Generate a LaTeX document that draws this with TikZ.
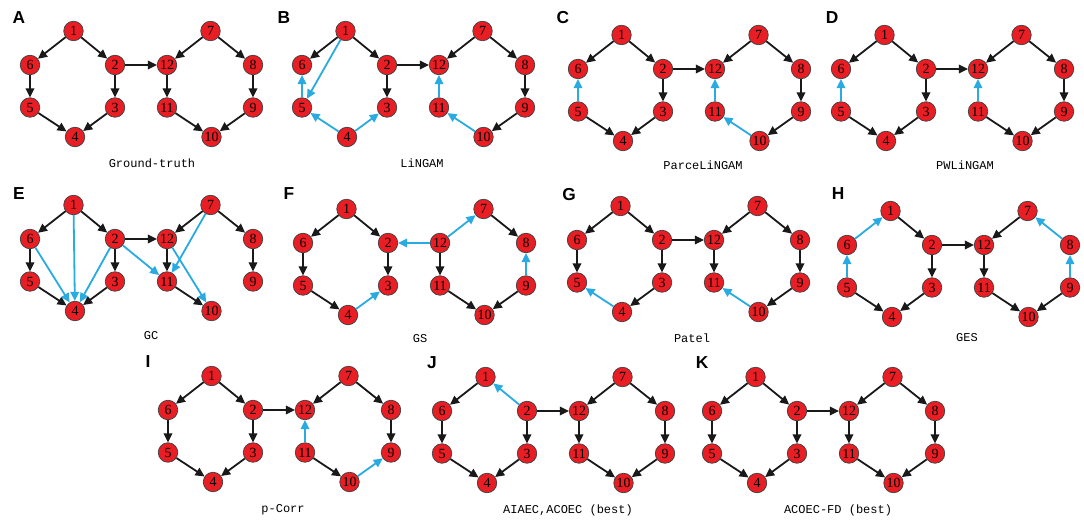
\documentclass[tikz,border=0pt]{standalone}
\usepackage{fontspec}
\setmainfont{Liberation Serif}
\newfontfamily\monof{Liberation Mono}
\newfontfamily\letf{Liberation Sans}
\usetikzlibrary{arrows.meta}
\definecolor{nodered}{RGB}{232,30,36}
\definecolor{edgeblue}{RGB}{41,171,226}
\tikzset{
  vnode/.style={circle, draw=black!75, line width=0.55pt, fill=nodered, minimum size=14.6pt, inner sep=0pt, font=\fontsize{10.5}{11}\selectfont},
  bk/.style={draw=black!90, line width=1.35pt, -{Triangle[length=6.8pt,width=6.4pt]}},
  bl/.style={draw=edgeblue, fill=edgeblue, line width=1.35pt, -{Triangle[length=6.8pt,width=6.4pt]}},
  plet/.style={font=\letf\bfseries\fontsize{13}{13}\selectfont, inner sep=0pt},
  plab/.style={font=\monof\fontsize{9}{9}\selectfont, inner sep=0pt},
}
\newcommand\mkpanel[3]{%
  \foreach \n/\dx/\dy in {1/43.5/-34, 2/85/0, 3/85/42.5, 4/45/72, 5/0/42.5, 6/0/0, 7/180.5/-34, 8/223/0, 9/223/42.5, 10/181.5/72, 11/137/42.5, 12/137/0}
    {\node[vnode] (#1\n) at ({#2+\dx},{#3+(\dy)}) {\n};}%
}
\newcommand\mkedges[3]{%
  \foreach \a/\b in {#3} {\draw[#2] (#1\a) -- (#1\b);}%
}
\begin{document}
\begin{tikzpicture}[x=0.75pt,y=-0.75pt]
\path[use as bounding box, fill=white] (0,0) rectangle (1084,520);

% ---------- Row 1 ----------
\mkpanel{A}{30}{65}
\mkpanel{B}{302}{65}
\mkpanel{C}{578}{69}
\mkpanel{D}{841}{69}
% ---------- Row 2 ----------
\mkpanel{E}{30}{239}
\mkpanel{F}{303}{243}
\mkpanel{G}{577}{240}
\mkpanel{H}{847}{245}
% ---------- Row 3 ----------
\mkpanel{I}{168}{410}
\mkpanel{J}{442}{411}
\mkpanel{K}{712}{411}

% panel letters
\node[plet] (LA) at (19,18) {A};
\node[plet] (LB) at (284,18) {B};
\node[plet] (LC) at (563,18) {C};
\node[plet] (LD) at (832,18) {D};
\node[plet] (LE) at (19,194) {E};
\node[plet] (LF) at (289,194) {F};
\node[plet] (LG) at (569,195) {G};
\node[plet] (LH) at (838,194) {H};
\node[plet] (LI) at (148,362) {I};
\node[plet] (LJ) at (432,363) {J};
\node[plet] (LK) at (702,363) {K};

% method labels
\node[plab] (TA) at (152,163) {Ground-truth};
\node[plab] (TB) at (422,163) {LiNGAM};
\node[plab] (TC) at (703,165) {ParceLiNGAM};
\node[plab] (TD) at (965,165) {PWLiNGAM};
\node[plab] (TE) at (151,336) {GC};
\node[plab] (TF) at (420,339) {GS};
\node[plab] (TG) at (692,338) {Patel};
\node[plab] (TH) at (967,338) {GES};
\node[plab] (TI) at (283,510) {p-Corr};
\node[plab] (TJ) at (568,510) {AIAEC,ACOEC (best)};
\node[plab] (TK) at (838,510) {ACOEC-FD (best)};

% edges
\mkedges{A}{bk}{1/6,1/2,6/5,2/3,5/4,3/4,2/12,7/12,7/8,12/11,8/9,11/10,9/10}

\mkedges{B}{bk}{1/6,1/2,2/3,2/12,7/12,7/8,8/9,9/10}
\mkedges{B}{bl}{1/5,5/6,4/5,4/3,11/12,10/11}

\mkedges{C}{bk}{1/6,1/2,2/3,2/12,5/4,3/4,7/12,7/8,8/9,9/10}
\mkedges{C}{bl}{5/6,11/12,10/11}

\mkedges{D}{bk}{1/6,1/2,2/3,2/12,5/4,3/4,7/12,7/8,8/9,11/10,9/10}
\mkedges{D}{bl}{5/6,11/12}

\mkedges{E}{bk}{1/6,1/2,6/5,2/3,5/4,3/4,2/12,7/12,7/8,12/11,8/9,11/10}
\mkedges{E}{bl}{1/4,6/4,2/4,2/11,7/11,12/10}

\mkedges{F}{bk}{1/6,1/2,6/5,2/3,5/4,12/11,7/8,11/10,9/10}
\mkedges{F}{bl}{4/3,12/2,12/7,9/8}

\mkedges{G}{bk}{1/6,1/2,6/5,2/3,3/4,2/12,7/12,7/8,12/11,8/9,9/10}
\mkedges{G}{bl}{4/5,10/11}

\mkedges{H}{bk}{1/2,2/3,5/4,3/4,2/12,7/12,12/11,11/10,9/10}
\mkedges{H}{bl}{6/1,5/6,8/7,9/8}

\mkedges{I}{bk}{1/6,1/2,6/5,2/3,5/4,3/4,2/12,7/12,7/8,8/9,11/10}
\mkedges{I}{bl}{11/12,10/9}

\mkedges{J}{bk}{1/6,6/5,2/3,5/4,3/4,2/12,7/12,7/8,12/11,8/9,11/10,9/10}
\mkedges{J}{bl}{2/1}

\mkedges{K}{bk}{1/6,1/2,6/5,2/3,5/4,3/4,2/12,7/12,7/8,12/11,8/9,11/10,9/10}
\end{tikzpicture}
\end{document}
